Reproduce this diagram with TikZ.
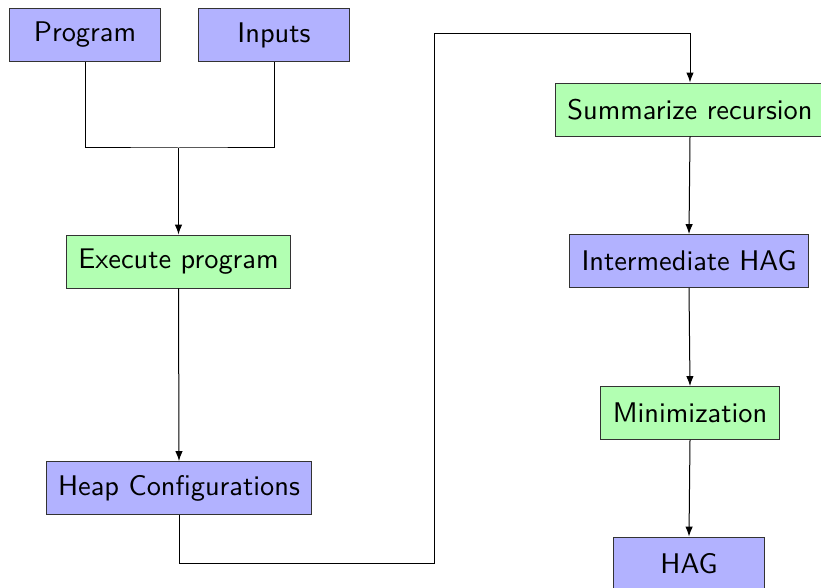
\documentclass[tikz,border=0pt]{standalone}
\usetikzlibrary{arrows.meta}
\definecolor{bbox}{RGB}{178,178,255}
\definecolor{gbox}{RGB}{178,255,178}
\newcommand{\bigtxt}[1]{\scalebox{2.84}{#1}}
\tikzset{
  box/.style={draw=black!80, line width=0.9pt, minimum width=151pt, minimum height=53pt,
    inner xsep=12pt, font=\fontsize{10}{12}\selectfont\sffamily, anchor=center},
  bluebox/.style={box, fill=bbox},
  greenbox/.style={box, fill=gbox},
  conn/.style={line width=1pt, draw=black},
  arr/.style={conn, -{Latex[length=10pt,width=7.5pt]}}
}
\begin{document}
\begin{tikzpicture}[x=1pt,y=-1pt]
\useasboundingbox (0,0) rectangle (821,588);
\node[bluebox] (prog) at (85,35) {\bigtxt{Program}};
\node[bluebox] (inp) at (274,35) {\bigtxt{Inputs}};
\node[greenbox] (exec) at (178.5,261.5) {\bigtxt{Execute program}};
\node[bluebox] (heap) at (179,488) {\bigtxt{Heap Configurations}};
\node[greenbox] (summ) at (690,109.5) {\bigtxt{Summarize recursion}};
\node[bluebox] (inter) at (689,261) {\bigtxt{Intermediate HAG}};
\node[greenbox] (mini) at (690,413) {\bigtxt{Minimization}};
\node[bluebox] (hag) at (689,563.5) {\bigtxt{HAG}};
\coordinate (merge) at (178.5,148);
\coordinate (c1) at (434,563);
\coordinate (c2) at (434,34);
\draw[conn] (prog.south) |- (merge) -| (inp.south);
\draw[arr] (merge) -- (exec.north);
\draw[arr] (exec.south) -- (heap.north);
\draw[arr] (heap.south) |- (c1) -- (c2) -| (summ.north);
\draw[arr] (summ.south) -- (inter.north);
\draw[arr] (inter.south) -- (mini.north);
\draw[arr] (mini.south) -- (hag.north);
\end{tikzpicture}
\end{document}
